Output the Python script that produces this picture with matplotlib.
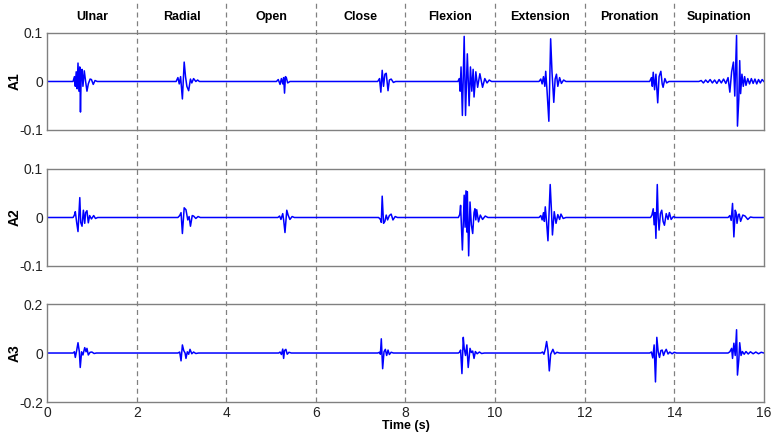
#Three channel signal bursts for eight wrist/hand motions

import matplotlib.pyplot as plt
from matplotlib.lines import Line2D
from matplotlib.transforms import blended_transform_factory

plt.rcParams['font.family'] = ['Liberation Sans', 'DejaVu Sans']

motions = ['Ulnar', 'Radial', 'Open', 'Close', 'Flexion', 'Extension', 'Pronation', 'Supination']
boundaries = [2, 4, 6, 8, 10, 12, 14]
channels = ['A1', 'A2', 'A3']
y_limits = [0.1, 0.1, 0.2]
x_ticks = [0, 2, 4, 6, 8, 10, 12, 14, 16]

# burst peaks, (time s, amplitude)
a1_bursts = [
	[(0.58, 0), (0.61, 0.01), (0.63, -0.01), (0.65, 0.02), (0.67, -0.015), (0.69, 0.038), (0.71, -0.02), (0.73, 0.03),
	 (0.745, -0.063), (0.76, 0.01), (0.78, 0.025), (0.80, -0.01), (0.83, 0.022), (0.86, 0.0), (0.89, -0.02),
	 (0.92, -0.005), (0.96, 0.005), (0.99, 0.004), (1.03, -0.006), (1.07, 0.002), (1.12, 0)],
	[(2.88, 0), (2.92, 0.008), (2.95, -0.005), (2.98, 0.01), (3.02, -0.036), (3.06, 0.04), (3.09, 0.01), (3.12, -0.01),
	 (3.16, -0.019), (3.2, 0.005), (3.23, -0.003), (3.27, 0.006), (3.32, 0), (3.36, 0.003), (3.4, 0)],
	[(5.12, 0), (5.16, 0.004), (5.2, -0.006), (5.23, 0.006), (5.26, -0.005), (5.28, 0.008), (5.3, -0.024), (5.32, 0.01),
	 (5.34, 0.008), (5.37, -0.003), (5.42, 0)],
	[(7.38, 0), (7.42, 0.006), (7.45, -0.022), (7.48, 0.023), (7.51, -0.01), (7.54, 0.015), (7.57, 0.017), (7.61, -0.019),
	 (7.64, 0.003), (7.68, 0.005), (7.73, -0.002), (7.78, 0)],
	[(9.17, 0), (9.20, 0.006), (9.22, -0.02), (9.24, 0.03), (9.27, -0.07), (9.31, 0.093), (9.34, -0.07), (9.38, 0.057),
	 (9.42, -0.05), (9.45, 0.03), (9.48, -0.02), (9.51, 0.025), (9.53, -0.032), (9.57, 0.02), (9.61, -0.012),
	 (9.66, 0.016), (9.72, -0.012), (9.77, 0.006), (9.82, -0.003), (9.87, 0.003), (9.92, 0)],
	[(10.98, 0), (11.02, 0.005), (11.05, -0.005), (11.08, 0.01), (11.11, -0.01), (11.13, 0.021), (11.16, -0.02),
	 (11.2, -0.082), (11.24, 0.088), (11.27, 0.02), (11.31, -0.043), (11.34, 0.005), (11.37, 0.015), (11.40, -0.01),
	 (11.44, 0.008), (11.48, -0.004), (11.53, 0.003), (11.58, 0)],
	[(13.45, 0), (13.49, 0.008), (13.51, -0.01), (13.53, 0.019), (13.56, -0.017), (13.59, 0.015), (13.63, -0.044),
	 (13.66, 0.01), (13.70, 0.021), (13.73, -0.005), (13.75, -0.012), (13.79, 0.006), (13.83, -0.003), (13.88, 0)],
	[(14.55, 0), (14.6, 0.002), (14.65, -0.003), (14.7, 0.003), (14.75, -0.002), (14.8, 0.004), (14.85, -0.003),
	 (14.9, 0.003), (14.95, -0.004), (15.0, 0.004), (15.05, -0.003), (15.1, 0.005), (15.15, -0.004), (15.2, 0.008),
	 (15.24, -0.022), (15.28, 0.02), (15.32, 0.04), (15.35, -0.03), (15.39, 0.095), (15.41, -0.092), (15.44, -0.036),
	 (15.46, 0.043), (15.48, -0.025), (15.51, 0.015), (15.54, -0.01), (15.57, 0.01), (15.6, -0.008), (15.64, 0.006),
	 (15.68, -0.005), (15.72, 0.006), (15.76, -0.004), (15.8, 0.005), (15.84, -0.005), (15.88, 0.004), (15.92, -0.003),
	 (15.96, 0.004)],
]

a2_bursts = [
	[(0.58, 0), (0.61, 0.005), (0.63, 0.012), (0.66, -0.01), (0.69, -0.029), (0.73, 0.041), (0.75, -0.01),
	 (0.78, -0.018), (0.81, 0.015), (0.84, -0.012), (0.86, 0.01), (0.89, 0.014), (0.92, -0.011), (0.95, 0.004),
	 (0.99, -0.003), (1.04, 0.004), (1.08, -0.002), (1.13, 0)],
	[(2.92, 0), (2.96, 0.004), (2.99, 0.01), (3.02, -0.033), (3.06, 0.02), (3.10, 0.016), (3.14, -0.005), (3.17, 0.002),
	 (3.2, -0.018), (3.24, 0.004), (3.27, 0.003), (3.32, -0.002), (3.37, 0.002), (3.42, 0)],
	[(5.15, 0), (5.19, 0.003), (5.22, -0.004), (5.26, 0.008), (5.28, -0.005), (5.31, -0.031), (5.35, 0.015),
	 (5.38, 0.005), (5.42, -0.004), (5.47, 0.002), (5.52, 0)],
	[(7.40, 0), (7.44, -0.004), (7.46, -0.01), (7.48, 0.044), (7.51, -0.012), (7.54, -0.008), (7.57, 0.005),
	 (7.60, -0.005), (7.64, 0.004), (7.68, 0.007), (7.72, -0.005), (7.77, 0.002), (7.82, 0)],
	[(9.18, 0), (9.21, 0.006), (9.23, 0.025), (9.25, -0.02), (9.27, -0.067), (9.31, 0.046), (9.33, -0.02), (9.35, 0.055),
	 (9.37, -0.03), (9.38, 0.053), (9.41, -0.079), (9.44, 0.032), (9.47, -0.015), (9.50, -0.033), (9.53, 0.01),
	 (9.55, 0.018), (9.57, -0.005), (9.59, 0.016), (9.63, -0.009), (9.67, 0.005), (9.72, -0.004), (9.78, 0.003),
	 (9.84, 0)],
	[(10.98, 0), (11.02, 0.004), (11.05, -0.005), (11.08, 0.01), (11.10, -0.008), (11.12, 0.022), (11.15, -0.01),
	 (11.18, -0.048), (11.23, 0.068), (11.26, 0.01), (11.28, -0.036), (11.32, 0.012), (11.36, -0.012), (11.40, 0.006),
	 (11.44, -0.004), (11.47, 0.007), (11.52, -0.002), (11.58, 0)],
	[(13.47, 0), (13.50, 0.005), (13.53, 0.018), (13.55, -0.015), (13.57, 0.01), (13.59, -0.043), (13.62, 0.068),
	 (13.64, 0.0), (13.66, -0.026), (13.69, 0.008), (13.72, 0.015), (13.75, -0.008), (13.78, -0.016), (13.82, 0.008),
	 (13.86, -0.004), (13.89, 0.01), (13.93, -0.004), (13.98, 0.002), (14.03, 0)],
	[(15.2, 0), (15.24, 0.004), (15.27, -0.006), (15.30, 0.029), (15.33, -0.04), (15.36, 0.015), (15.38, 0.01),
	 (15.40, -0.012), (15.43, 0.006), (15.45, 0.007), (15.48, -0.008), (15.53, 0.005), (15.58, 0.003), (15.64, -0.004),
	 (15.70, 0.001), (15.76, 0)],
]

a3_bursts = [
	[(0.58, 0), (0.61, 0.005), (0.63, -0.018), (0.66, 0.01), (0.69, 0.042), (0.72, 0.005), (0.74, -0.059), (0.77, 0.005),
	 (0.80, -0.008), (0.84, 0.022), (0.87, 0.005), (0.89, 0.019), (0.92, -0.008), (0.96, 0.003), (1.0, 0.004),
	 (1.05, -0.002), (1.1, 0)],
	[(2.92, 0), (2.96, 0.004), (2.99, -0.032), (3.02, 0.033), (3.05, 0.01), (3.08, 0.0), (3.10, -0.022), (3.13, 0.005),
	 (3.16, -0.005), (3.19, 0.015), (3.23, -0.003), (3.27, 0.004), (3.32, -0.002), (3.38, 0)],
	[(5.17, 0), (5.20, 0.004), (5.23, -0.006), (5.26, 0.016), (5.28, -0.022), (5.30, 0.01), (5.33, 0.015),
	 (5.36, -0.005), (5.40, 0.003), (5.45, 0)],
	[(7.38, 0), (7.42, 0.003), (7.44, -0.005), (7.46, 0.058), (7.49, -0.064), (7.52, 0.005), (7.55, 0.015),
	 (7.58, -0.01), (7.61, 0.012), (7.64, -0.006), (7.68, 0.003), (7.73, 0)],
	[(9.18, 0), (9.21, 0.004), (9.23, 0.012), (9.26, -0.084), (9.29, 0.064), (9.31, 0.02), (9.34, -0.01), (9.37, 0.033),
	 (9.40, -0.059), (9.44, 0.019), (9.47, 0.002), (9.50, 0.008), (9.53, -0.022), (9.56, 0.006), (9.60, -0.003),
	 (9.65, 0.004), (9.70, -0.002), (9.76, 0)],
	[(11.02, 0), (11.06, 0.004), (11.09, -0.005), (11.12, 0.015), (11.15, 0.047), (11.18, 0.01), (11.21, -0.073),
	 (11.24, -0.005), (11.29, 0.015), (11.33, -0.004), (11.38, 0.003), (11.44, 0)],
	[(13.45, 0), (13.49, 0.004), (13.52, -0.02), (13.55, 0.033), (13.58, -0.118), (13.61, 0.064), (13.64, 0.005),
	 (13.67, -0.018), (13.70, 0.01), (13.73, 0.012), (13.76, -0.01), (13.79, 0.005), (13.82, 0.015), (13.86, -0.004),
	 (13.90, 0.004), (13.95, -0.003), (14.0, 0.003), (14.05, 0)],
	[(15.2, 0), (15.24, 0.005), (15.28, 0.019), (15.30, -0.022), (15.33, 0.04), (15.36, -0.01), (15.39, 0.095),
	 (15.41, -0.09), (15.44, -0.028), (15.46, 0.042), (15.49, -0.01), (15.52, 0.006), (15.56, -0.005), (15.60, 0.006),
	 (15.65, -0.004), (15.70, 0.005), (15.76, -0.003), (15.82, 0.004), (15.88, -0.003), (15.94, 0.003)],
]

all_bursts = [a1_bursts, a2_bursts, a3_bursts]

fig = plt.figure(figsize=(7.72, 4.34), dpi=100)
rects = [[0.061, 0.7005, 0.9285, 0.2235],
	[0.061, 0.3871, 0.9285, 0.2235],
	[0.061, 0.0737, 0.9285, 0.2258]]

axes = []
for i in range(3):
	ax = fig.add_axes(rects[i])
	ax.set_facecolor('none')
	t = [0.0]
	v = [0.0]
	for burst in all_bursts[i]:
		for p in burst:
			t.append(p[0])
			v.append(p[1])
	t.append(16.0)
	v.append(0.0)
	ax.plot(t, v, color='#0000ff', linewidth=1.1)

	lim = y_limits[i]
	ax.set_xlim(0, 16)
	ax.set_ylim(-lim, lim)
	ax.set_yticks([-lim, 0, lim])
	ax.set_yticklabels(['-' + str(lim), '0', str(lim)])
	ax.set_ylabel(channels[i], fontsize=10, fontweight='bold')
	ax.yaxis.set_label_coords(-0.036, 0.5)
	ax.set_xticks(x_ticks)
	if i < 2:
		ax.set_xticklabels([])
	ax.tick_params(length=0, labelsize=10, pad=3, colors='#222222')
	for s in ax.spines.values():
		s.set_color('#808080')
		s.set_linewidth(1.0)
	axes.append(ax)

axes[2].set_xlabel('Time (s)', fontsize=9, fontweight='bold', labelpad=0)

# dashed motion boundaries run from the top of the figure down through all panels
trans = blended_transform_factory(axes[2].transData, fig.transFigure)
for b in boundaries:
	ln = Line2D([b, b], [0.0737, 1.0], transform=trans, color='#808080', linestyle=(0, (4, 3)), linewidth=0.9, zorder=-1)
	fig.add_artist(ln)

for k in range(len(motions)):
	fig.text(0, 0.961, motions[k], transform=trans, ha='center', va='center', fontsize=9, fontweight='bold')
	fig.texts[-1].set_x(2 * k + 1)

fig.savefig('out.png', dpi=100)
